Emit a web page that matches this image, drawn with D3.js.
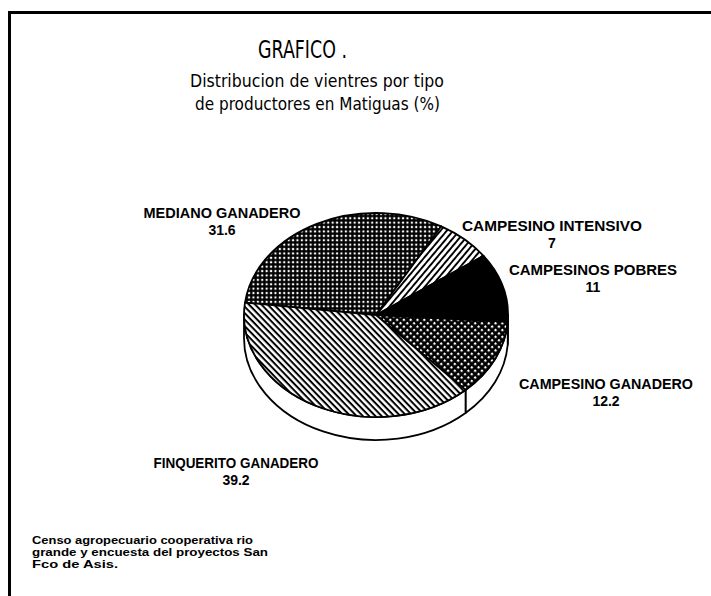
<!DOCTYPE html>
<html>
<head>
<meta charset="utf-8">
<script src="https://cdn.jsdelivr.net/npm/d3@7"></script>
<style>
  html, body { margin: 0; padding: 0; background: #fff; }
  svg { display: block; }
</style>
</head>
<body>
<svg id="chart" width="711" height="596"></svg>
<script>
// Producer types and their share of breeding cows (%)
const categories = [
  "MEDIANO GANADERO",
  "CAMPESINO INTENSIVO",
  "CAMPESINOS POBRES",
  "CAMPESINO GANADERO",
  "FINQUERITO GANADERO"
];
const shares = [31.6, 7, 11, 12.2, 39.2];
const valueLabels = ["31.6", "7", "11", "12.2", "39.2"];

const titleLines = ["Distribucion de vientres por tipo", "de productores en Matiguas (%)"];
const sourceLines = [
  "Censo agropecuario cooperativa rio",
  "grande y encuesta del proyectos San",
  "Fco de Asis."
];

const svg = d3.select("#chart");
const W = 711, H = 596;

// ---- fill patterns ----
const defs = svg.append("defs");

// square grid (black with small white squares)
const grid = defs.append("pattern").attr("id", "pGrid")
  .attr("patternUnits", "userSpaceOnUse").attr("width", 4.4).attr("height", 4.4);
grid.append("rect").attr("width", 4.4).attr("height", 4.4).attr("fill", "#000");
grid.append("rect").attr("x", 1.6).attr("y", 1.6).attr("width", 2.1).attr("height", 2.1).attr("fill", "#fff");

// forward diagonal lines
const fwd = defs.append("pattern").attr("id", "pFwd")
  .attr("patternUnits", "userSpaceOnUse").attr("width", 4.8).attr("height", 4.8)
  .attr("patternTransform", "rotate(-50)");
fwd.append("rect").attr("width", 4.8).attr("height", 4.8).attr("fill", "#fff");
fwd.append("rect").attr("x", 0).attr("y", 0).attr("width", 4.8).attr("height", 1.9).attr("fill", "#000");

// back diagonal lines
const back = defs.append("pattern").attr("id", "pBack")
  .attr("patternUnits", "userSpaceOnUse").attr("width", 4.5).attr("height", 4.5)
  .attr("patternTransform", "rotate(46)");
back.append("rect").attr("width", 4.5).attr("height", 4.5).attr("fill", "#fff");
back.append("rect").attr("x", 0).attr("y", 0).attr("width", 4.5).attr("height", 2.0).attr("fill", "#000");

// diagonal crosshatch (black with white diamonds)
const cross = defs.append("pattern").attr("id", "pCross")
  .attr("patternUnits", "userSpaceOnUse").attr("width", 4.8).attr("height", 4.8)
  .attr("patternTransform", "rotate(45)");
cross.append("rect").attr("width", 4.8).attr("height", 4.8).attr("fill", "#000");
cross.append("rect").attr("x", 1.9).attr("y", 1.9).attr("width", 2.2).attr("height", 2.2).attr("fill", "#fff");

const fills = ["url(#pGrid)", "url(#pFwd)", "#000", "url(#pCross)", "url(#pBack)"];

// ---- frame ----
svg.append("line").attr("x1", 9.5).attr("y1", 11).attr("x2", 9.5).attr("y2", H)
  .attr("stroke", "#000").attr("stroke-width", 3);
svg.append("line").attr("x1", 8).attr("y1", 12.5).attr("x2", W).attr("y2", 12.5)
  .attr("stroke", "#000").attr("stroke-width", 3);

// ---- titles ----
svg.append("text").attr("x", 258).attr("y", 58)
  .attr("font-family", "'DejaVu Sans', sans-serif")
  .attr("font-size", 24).attr("textLength", 89).attr("lengthAdjust", "spacingAndGlyphs")
  .text("GRAFICO .");
svg.selectAll("text.sub").data(titleLines).join("text").attr("class", "sub")
  .attr("x", (d, i) => i === 0 ? 190 : 195)
  .attr("y", (d, i) => 87 + i * 23)
  .attr("font-family", "'DejaVu Sans', sans-serif")
  .attr("font-size", 18)
  .attr("textLength", (d, i) => i === 0 ? 254 : 245)
  .attr("lengthAdjust", "spacingAndGlyphs")
  .text(d => d);

// ---- 3D pie ----
const cx = 376, cy = 315, rx = 132, ry = 102, depth = 23;
const pie = d3.pie().sort(null).value(d => d)
  .startAngle(-83 * Math.PI / 180)
  .endAngle(-83 * Math.PI / 180 + 2 * Math.PI);
const arcs = pie(shares);

const pt = (a, dy = 0) => [cx + rx * Math.sin(a), cy - ry * Math.cos(a) + dy];

function slicePath(a0, a1) {
  const p0 = pt(a0), p1 = pt(a1);
  const large = (a1 - a0) > Math.PI ? 1 : 0;
  return `M${cx},${cy}L${p0[0]},${p0[1]}A${rx},${ry} 0 ${large} 1 ${p1[0]},${p1[1]}Z`;
}
function wallPath(a0, a1) {
  const t0 = pt(a0), t1 = pt(a1), b0 = pt(a0, depth), b1 = pt(a1, depth);
  return `M${t0[0]},${t0[1]}A${rx},${ry} 0 0 1 ${t1[0]},${t1[1]}` +
         `L${b1[0]},${b1[1]}A${rx},${ry} 0 0 0 ${b0[0]},${b0[1]}Z`;
}

// visible side wall: front half (90deg .. 270deg clockwise from top)
const frontLo = Math.PI / 2, frontHi = 3 * Math.PI / 2;
const walls = arcs.map(d => {
  const a0 = Math.max(d.startAngle, frontLo), a1 = Math.min(d.endAngle, frontHi);
  return a1 > a0 ? { a0, a1 } : null;
}).filter(Boolean);
svg.append("g").selectAll("path").data(walls).join("path")
  .attr("d", d => wallPath(d.a0, d.a1))
  .attr("fill", "#fff").attr("stroke", "#000").attr("stroke-width", 1.8)
  .attr("stroke-linejoin", "round");

svg.append("g").selectAll("path").data(arcs).join("path")
  .attr("d", d => slicePath(d.startAngle, d.endAngle))
  .attr("fill", (d, i) => fills[i])
  .attr("stroke", "#000").attr("stroke-width", 1.8).attr("stroke-linejoin", "round");

// ---- slice labels ----
const labelPos = [
  { x: 222, y: 218 },
  { x: 552, y: 231 },
  { x: 593, y: 275 },
  { x: 606, y: 389 },
  { x: 236, y: 468 }
];
const labelWidths = [157, 180, 168, 174, 165];
const lab = svg.append("g")
  .attr("font-family", "'Liberation Sans', Arial, sans-serif")
  .attr("font-weight", "bold").attr("text-anchor", "middle");
categories.forEach((c, i) => {
  lab.append("text").attr("x", labelPos[i].x).attr("y", labelPos[i].y)
    .attr("font-size", 15).attr("textLength", labelWidths[i])
    .attr("lengthAdjust", "spacingAndGlyphs").text(c);
  lab.append("text").attr("x", labelPos[i].x).attr("y", labelPos[i].y + 17)
    .attr("font-size", 14).text(valueLabels[i]);
});

// ---- source note ----
svg.append("g").selectAll("text").data(sourceLines).join("text")
  .attr("x", 32).attr("y", (d, i) => 544 + i * 12)
  .attr("font-family", "'Liberation Sans', Arial, sans-serif")
  .attr("font-weight", "bold").attr("font-size", 11)
  .attr("textLength", (d, i) => [221, 236, 86][i])
  .attr("lengthAdjust", "spacingAndGlyphs")
  .text(d => d);
</script>
</body>
</html>
